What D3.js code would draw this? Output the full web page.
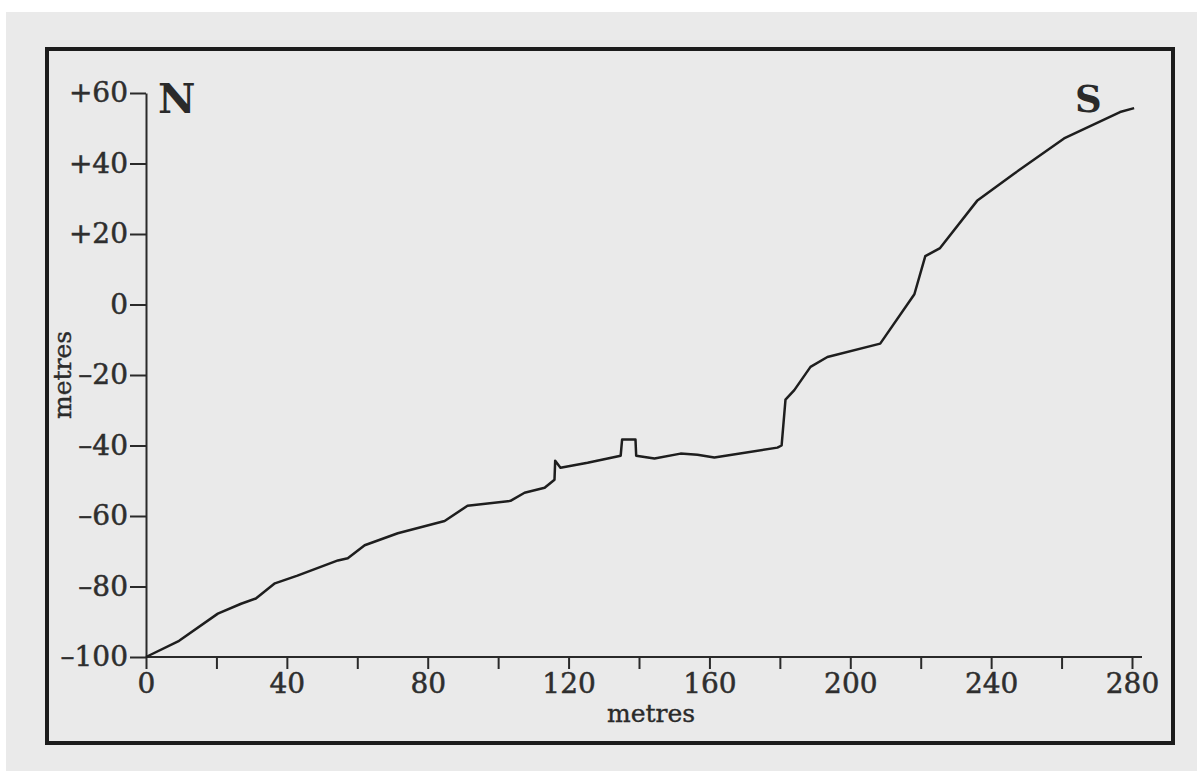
<!DOCTYPE html>
<html>
<head>
<meta charset="utf-8">
<script src="https://cdn.jsdelivr.net/npm/d3@7"></script>
<style>
  body { margin: 0; background: #fff; }
  text { font-family: "DejaVu Serif", "Liberation Serif", serif; fill: #2a2a2a; }
</style>
</head>
<body>
<div id="chart-area"></div>
<script>
// DATA - profile (distance in metres, height in metres)
var distance = [0, 9.4, 20.4, 27, 31.2, 36.6, 43, 54.5, 57.3, 62.1, 71.5, 84.8, 91.3, 103.5,
    107.5, 113.2, 116, 116.2, 117.7, 125.4, 134.8, 135.2, 139, 139.2, 144.4, 151.8, 156.6,
    161.4, 179.3, 180.5, 181.6, 184.1, 188.7, 193.5, 208.5, 218.2, 221.3, 225.5, 236, 246.5,
    260.7, 276.6, 280.6];
var height = [-100, -95.4, -87.7, -84.9, -83.4, -79.1, -76.9, -72.6, -72, -68.3, -64.9, -61.4,
    -57.1, -55.7, -53.4, -52, -49.7, -44.3, -46.3, -44.9, -42.9, -38.3, -38.3, -42.9, -43.7,
    -42.3, -42.6, -43.4, -40.6, -40, -27, -24.3, -17.7, -14.9, -11.1, 2.9, 13.7, 16, 29.4,
    37.1, 47.1, 54.6, 55.7];
var xTicks = [0, 20, 40, 60, 80, 100, 120, 140, 160, 180, 200, 220, 240, 260, 280];
var yTicks = [-100, -80, -60, -40, -20, 0, 20, 40, 60];

var W = 1197, H = 771;

var svg = d3.select("#chart-area")
    .append("svg")
    .attr("width", W)
    .attr("height", H);

// paper + frame
svg.append("rect")
    .attr("x", 6).attr("y", 12)
    .attr("width", W - 6).attr("height", H - 12)
    .attr("fill", "#eaeaea");

svg.append("rect")
    .attr("x", 47).attr("y", 49)
    .attr("width", 1126).attr("height", 694)
    .attr("fill", "none")
    .attr("stroke", "#1c1c1c")
    .attr("stroke-width", 4);

// SCALES
var x = d3.scaleLinear().domain([0, 280]).range([146, 1132]);
var y = d3.scaleLinear().domain([-100, 60]).range([657, 93]);

//AXIS
var xAxis = d3.axisBottom(x)
    .tickValues(xTicks)
    .tickSize(12)
    .tickSizeOuter(0)
    .tickPadding(4)
    .tickFormat((d) => d % 40 === 0 ? d : "");

var yAxis = d3.axisLeft(y)
    .tickValues(yTicks)
    .tickSize(16)
    .tickSizeOuter(0)
    .tickPadding(2)
    .tickFormat((d) => d > 0 ? "+" + d : (d < 0 ? "\u2013" + (-d) : "0"));

var xg = svg.append("g")
    .attr("transform", "translate(0," + y(-100) + ")")
    .call(xAxis);
xg.select(".domain").attr("d", "M" + x(0) + ",0H" + (x(280) + 10));

var yg = svg.append("g")
    .attr("transform", "translate(" + x(0) + ",0)")
    .call(yAxis);

svg.selectAll(".tick line").attr("stroke", "#2a2a2a").attr("stroke-width", 2);
svg.selectAll(".domain").attr("stroke", "#2a2a2a").attr("stroke-width", 2);
svg.selectAll(".tick text")
    .attr("font-family", "DejaVu Serif, serif")
    .attr("font-size", "28px")
    .style("fill", "#2e2e2e")
    .style("stroke", "#2e2e2e")
    .style("stroke-width", 0.5);

// axis titles
svg.append("text")
    .attr("x", 651)
    .attr("y", 722)
    .attr("font-size", "25px")
    .attr("text-anchor", "middle")
    .style("stroke", "#2a2a2a").style("stroke-width", 0.4)
    .text("metres");

svg.append("text")
    .attr("transform", "translate(71,375) rotate(-90)")
    .attr("font-size", "25px")
    .attr("text-anchor", "middle")
    .style("stroke", "#2a2a2a").style("stroke-width", 0.4)
    .text("metres");

// N / S
svg.append("text")
    .attr("x", 158).attr("y", 113)
    .attr("font-size", "41px")
    .attr("font-weight", "bold")
    .text("N");

svg.append("text")
    .attr("x", 1075).attr("y", 112)
    .attr("font-size", "37px")
    .attr("font-weight", "bold")
    .text("S");

// LINE
var pts = distance.map((d, i) => [d, height[i]]);
var line = d3.line()
    .x((d) => x(d[0]))
    .y((d) => y(d[1]));

svg.append("path")
    .datum(pts)
    .attr("d", line)
    .attr("fill", "none")
    .attr("stroke", "#1e1e1e")
    .attr("stroke-width", 2.5)
    .attr("stroke-linejoin", "round");
</script>
</body>
</html>
